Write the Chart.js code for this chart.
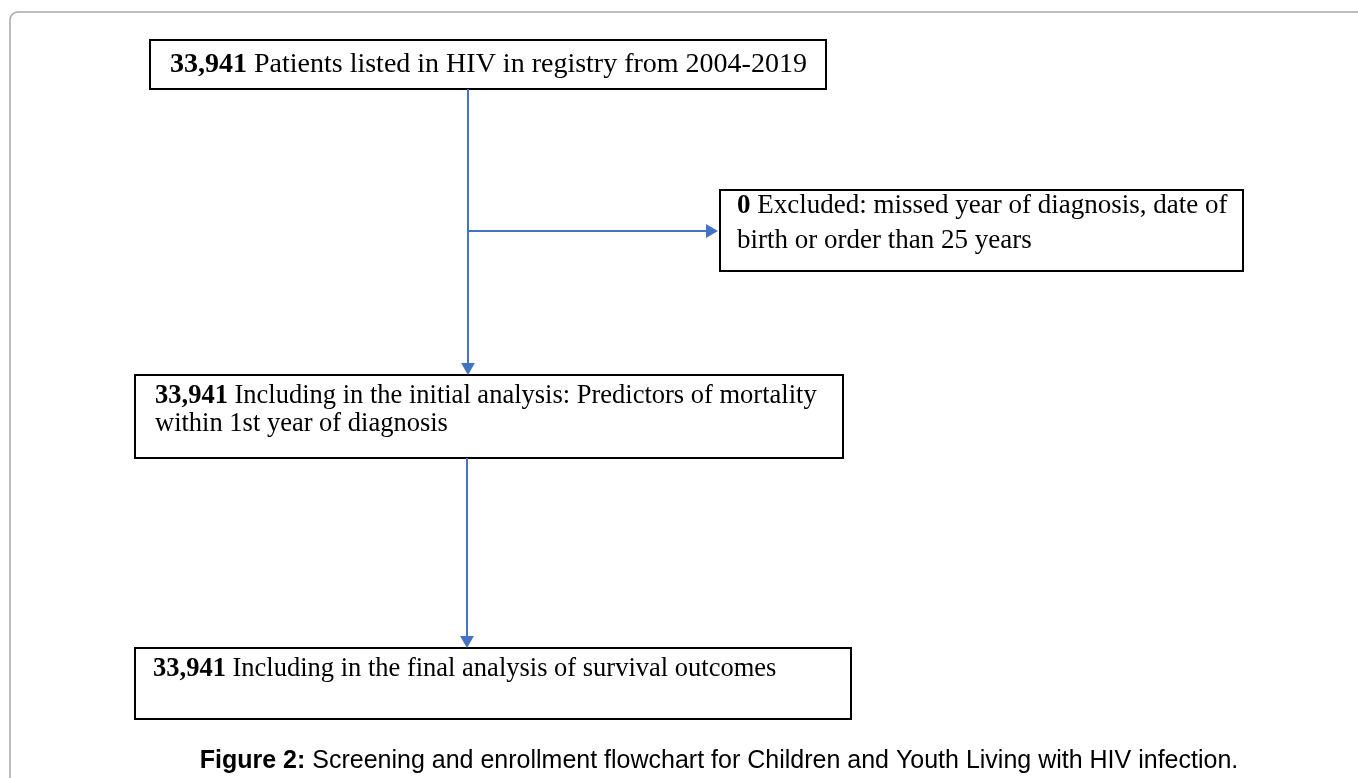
<!DOCTYPE html>
<html>
<head>
<meta charset="utf-8">
<script src="https://cdn.jsdelivr.net/npm/chart.js@4.4.1/dist/chart.umd.min.js"></script>
<style>
    body { margin: 0; background: #fff; }
    #wrap { width: 1358px; height: 778px; }
</style>
</head>
<body>
<div id="wrap"><canvas id="canvasFluxo" width="1358" height="778"></canvas></div>
<script>
// counts and texts of the flowchart steps
const counts = ['33,941', '0', '33,941', '33,941']
const stepTexts = [
    ['Patients listed in HIV in registry from 2004-2019'],
    ['Excluded: missed year of diagnosis, date of', 'birth or order than 25 years'],
    ['Including in the initial analysis: Predictors of mortality', 'within 1st year of diagnosis'],
    ['Including in the final analysis of survival outcomes']
]
const captionBold = 'Figure 2:'
const captionText = ' Screening and enrollment flowchart for Children and Youth Living with HIV infection.'

// layout of the boxes (page units), kept apart from the data
const boxes = [
    { x0: 150, y0: 40, x1: 826, y1: 89, tx: 170, ty: 65, gap: 0, size: 28 },
    { x0: 720, y0: 190, x1: 1243, y1: 271, tx: 737, ty: 206, gap: 35, size: 27 },
    { x0: 135, y0: 375, x1: 843, y1: 458, tx: 155, ty: 396, gap: 28, size: 26.5 },
    { x0: 135, y0: 648, x1: 851, y1: 719, tx: 153, ty: 669, gap: 0, size: 26.5 }
]
const arrowColor = '#4472C4'
const serif = '"Liberation Serif", "Times New Roman", serif'
const sans = '"Liberation Sans", Arial, sans-serif'

function connector(pts, rot) {
    return {
        data: pts,
        showLine: true,
        borderColor: arrowColor,
        backgroundColor: arrowColor,
        borderWidth: 2,
        pointStyle: 'triangle',
        pointRadius: [0, 8],
        pointHoverRadius: [0, 8],
        pointRotation: [0, rot],
        pointBorderWidth: 0,
        clip: false
    }
}

const flowPlugin = {
    id: 'flow',
    beforeDatasetsDraw(chart) {
        const ctx = chart.ctx
        const sx = chart.scales.x, sy = chart.scales.y
        const px = v => sx.getPixelForValue(v)
        const py = v => sy.getPixelForValue(v)
        ctx.save()
        // outer frame
        ctx.strokeStyle = '#a6a6a6'
        ctx.lineWidth = 1.5
        ctx.beginPath()
        ctx.roundRect(px(10), py(12), px(1400) - px(10), py(820) - py(12), 8)
        ctx.stroke()

        boxes.forEach((b, i) => {
            ctx.fillStyle = '#fff'
            ctx.fillRect(px(b.x0), py(b.y0), px(b.x1) - px(b.x0), py(b.y1) - py(b.y0))
            ctx.strokeStyle = '#000'
            ctx.lineWidth = 2
            ctx.strokeRect(px(b.x0), py(b.y0), px(b.x1) - px(b.x0), py(b.y1) - py(b.y0))
            ctx.fillStyle = '#000'
            ctx.textBaseline = 'middle'
            stepTexts[i].forEach((line, j) => {
                let x = px(b.tx)
                const y = py(b.ty + j * b.gap)
                if (j == 0) {
                    ctx.font = 'bold ' + b.size + 'px ' + serif
                    ctx.fillText(counts[i], x, y)
                    x += ctx.measureText(counts[i]).width
                    line = ' ' + line
                }
                ctx.font = b.size + 'px ' + serif
                ctx.fillText(line, x, y)
            })
        })

        // caption
        ctx.font = 'bold 25px ' + sans
        const w1 = ctx.measureText(captionBold).width
        ctx.font = '25px ' + sans
        const w2 = ctx.measureText(captionText).width
        let cx = px(719) - (w1 + w2) / 2
        ctx.font = 'bold 25px ' + sans
        ctx.fillText(captionBold, cx, py(761))
        ctx.font = '25px ' + sans
        ctx.fillText(captionText, cx + w1, py(761))
        ctx.restore()
    }
}

new Chart(document.getElementById('canvasFluxo').getContext('2d'), {
    type: 'scatter',
    data: {
        datasets: [
            connector([{ x: 468, y: 89 }, { x: 468, y: 367 }], 180),
            connector([{ x: 468, y: 231 }, { x: 710, y: 231 }], 90),
            connector([{ x: 467, y: 458 }, { x: 467, y: 640 }], 180)
        ]
    },
    options: {
        responsive: false,
        animation: false,
        events: [],
        layout: { padding: 0, autoPadding: false },
        scales: {
            x: { type: 'linear', min: 0, max: 1358, display: false },
            y: { type: 'linear', min: 0, max: 778, reverse: true, display: false }
        },
        plugins: {
            legend: { display: false },
            tooltip: { enabled: false }
        }
    },
    plugins: [flowPlugin]
})
</script>
</body>
</html>
